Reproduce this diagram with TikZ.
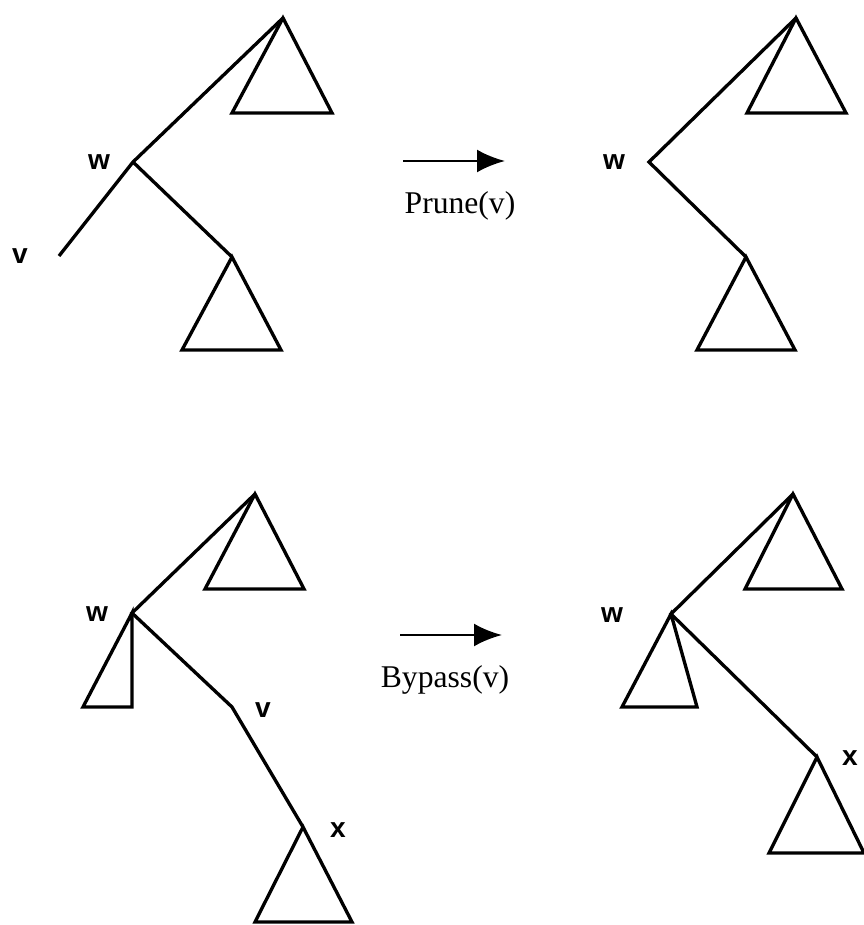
\documentclass[tikz,border=0pt]{standalone}
\usepackage{fontspec}
\setmainfont{Liberation Serif}
\setsansfont{Liberation Sans}
\usetikzlibrary{arrows.meta, positioning}

\begin{document}
\begin{tikzpicture}[
  x=0.02cm, y=-0.02cm,
  line width=1.9pt,
  line join=miter,
  edge/.style={draw, line width=1.9pt},
  subtree/.style={draw, line width=1.9pt, line join=miter},
  lbl/.style={font=\sffamily\bfseries\fontsize{16}{18}\selectfont, inner sep=0pt},
  oplabel/.style={font=\fontsize{18}{21}\selectfont, inner sep=0pt, anchor=base},
  arr/.style={-{Latex[length=5.6mm, width=4.6mm]}, line width=1.6pt}
]
\useasboundingbox (0,0) rectangle (864,925);

% Prune, before
\coordinate (pa-root) at (283,18);
\coordinate (pa-w) at (133,162);
\coordinate (pa-v) at (59,256);
\coordinate (pa-c) at (232,257);
\draw[subtree] (pa-root) -- ++(-51,95) -- ++(100,0) -- cycle;
\draw[subtree] (pa-c) -- ++(-50,93) -- ++(99,0) -- cycle;
\draw[edge] (pa-root) -- (pa-w) -- (pa-v);
\draw[edge] (pa-w) -- (pa-c);
\node[lbl] (pa-wl) at (99,162) {w};
\node[lbl] (pa-vl) at (20,256) {v};

% Prune, after
\coordinate (pb-root) at (796,18);
\coordinate (pb-w) at (649,162);
\coordinate (pb-c) at (746,257);
\draw[subtree] (pb-root) -- ++(-49,95) -- ++(99,0) -- cycle;
\draw[subtree] (pb-c) -- ++(-49,93) -- ++(98,0) -- cycle;
\draw[edge] (pb-root) -- (pb-w) -- (pb-c);
\node[lbl] (pb-wl) at (614,162) {w};

% Prune arrow
\coordinate (pr-s) at (403,161);
\coordinate (pr-e) at (505,161);
\draw[arr] (pr-s) -- (pr-e);
\node[oplabel] (pr-l) at (460,214) {Prune(v)};

% Bypass, before
\coordinate (ba-root) at (255,494);
\coordinate (ba-w) at (132,613);
\coordinate (ba-v) at (232,707);
\coordinate (ba-x) at (303,827);
\draw[subtree] (ba-root) -- ++(-50,95) -- ++(99,0) -- cycle;
\draw[subtree] (ba-w) -- ++(-49,94) -- ++(49,0) -- cycle;
\draw[subtree] (ba-x) -- ++(-48,95) -- ++(97,0) -- cycle;
\draw[edge] (ba-root) -- (ba-w) -- (ba-v) -- (ba-x);
\node[lbl] (ba-wl) at (97,614) {w};
\node[lbl] (ba-vl) at (263,710) {v};
\node[lbl] (ba-xl) at (338,830) {x};

% Bypass arrow
\coordinate (by-s) at (400,635);
\coordinate (by-e) at (502,635);
\draw[arr] (by-s) -- (by-e);
\node[oplabel] (by-l) at (445,687) {Bypass(v)};

% Bypass, after
\coordinate (bb-root) at (793,494);
\coordinate (bb-w) at (671,614);
\coordinate (bb-x) at (817,757);
\draw[subtree] (bb-root) -- ++(-48,95) -- ++(97,0) -- cycle;
\draw[subtree] (bb-w) -- ++(-49,93) -- ++(75,0) -- cycle;
\draw[subtree] (bb-x) -- ++(-48,96) -- ++(95,0) -- cycle;
\draw[edge] (bb-root) -- (bb-w) -- (bb-x);
\node[lbl] (bb-wl) at (612,615) {w};
\node[lbl] (bb-xl) at (850,758) {x};
\end{tikzpicture}
\end{document}
